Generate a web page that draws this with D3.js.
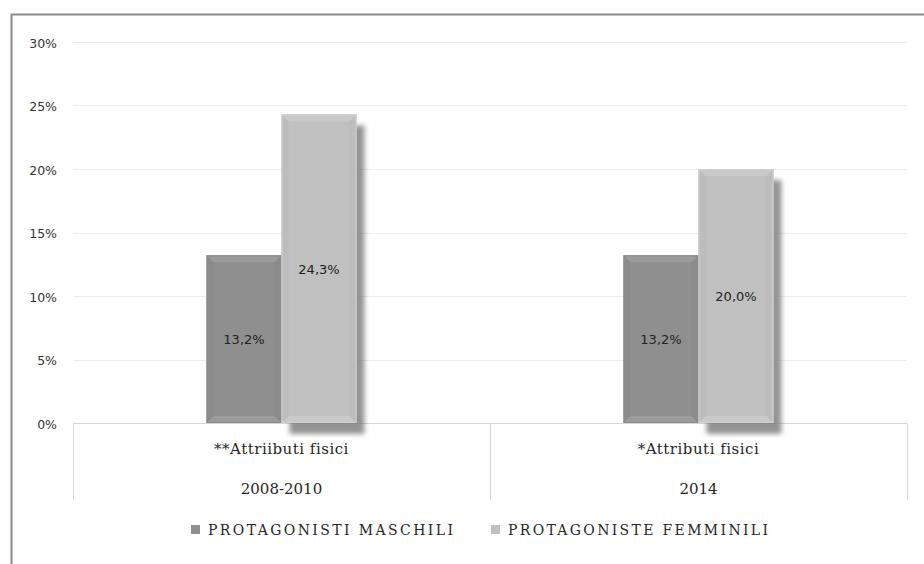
<!DOCTYPE html>
<html>
<head>
<meta charset="utf-8">
<script src="https://cdn.jsdelivr.net/npm/d3@7/dist/d3.min.js"></script>
<style>
  html, body { margin: 0; padding: 0; background: #fff; }
  svg { display: block; }
</style>
</head>
<body>
<svg id="chart" width="924" height="564"></svg>
<script>
// Percent of protagonists described by physical attributes
const groups = ["**Attriibuti fisici", "*Attributi fisici"];
const periods = ["2008-2010", "2014"];
const seriesNames = ["PROTAGONISTI MASCHILI", "PROTAGONISTE FEMMINILI"];
const maschili = [13.2, 13.2];
const femminili = [24.3, 20.0];
const yTicks = [0, 5, 10, 15, 20, 25, 30];

const colors = ["#8f8f8f", "#c0c0c0"];
const edgeLight = ["#9b9b9b", "#c9c9c9"];
const edgeDark = ["#888888", "#b8b8b8"];
const SERIF = "DejaVu Serif";

const svg = d3.select("#chart");
const margin = { left: 73, right: 17, top: 42, bottom: 141 };
const W = 924, H = 564;

const defs = svg.append("defs");
const shadow = defs.append("filter").attr("id", "shadow")
  .attr("x", "-20%").attr("y", "-20%").attr("width", "160%").attr("height", "140%");
shadow.append("feDropShadow").attr("dx", 8).attr("dy", 11)
  .attr("stdDeviation", 2.6).attr("flood-color", "#707070").attr("flood-opacity", 0.75);

// Outer frame
svg.append("path")
  .attr("d", `M11.5,${H} V14.5 H${W}`)
  .attr("fill", "none").attr("stroke", "#8a8a8a").attr("stroke-width", 2);

const y = d3.scaleLinear().domain([0, 30]).range([H - margin.bottom, margin.top]);
const x0 = d3.scaleBand().domain(d3.range(groups.length))
  .range([margin.left, W - margin.right]).paddingInner(0).paddingOuter(0);
const x1 = d3.scaleBand().domain([0, 1]).range([0, x0.bandwidth()])
  .paddingInner(0).paddingOuter(1.78);

// Gridlines
svg.append("g")
  .selectAll("line").data(yTicks.filter(t => t > 0)).join("line")
  .attr("x1", margin.left).attr("x2", W - margin.right)
  .attr("y1", d => Math.round(y(d)) + 0.5).attr("y2", d => Math.round(y(d)) + 0.5)
  .attr("stroke", "#ececec").attr("stroke-width", 1);

// Y axis labels
const yAxis = d3.axisLeft(y).tickValues(yTicks).tickFormat(d => d + "%").tickSize(0).tickPadding(16);
const gy = svg.append("g").attr("transform", `translate(${margin.left},0)`).call(yAxis);
gy.attr("font-family", "DejaVu Sans");
gy.select(".domain").remove();
gy.selectAll("text").attr("font-size", 12.5).attr("fill", "#333").attr("dy", "0.4em");

// Category axis: baseline and group dividers
const base = Math.round(y(0)) + 0.5;
const axisBottom = 500;
svg.append("line").attr("x1", margin.left).attr("x2", W - margin.right)
  .attr("y1", base).attr("y2", base).attr("stroke", "#d6d6d6");
const dividers = [margin.left, ...d3.range(groups.length).map(i => x0(i) + x0.bandwidth())];
svg.append("g").selectAll("line").data(dividers).join("line")
  .attr("x1", d => Math.round(d) + 0.5).attr("x2", d => Math.round(d) + 0.5)
  .attr("y1", base).attr("y2", axisBottom).attr("stroke", "#d6d6d6");

const labels = svg.append("g").attr("font-family", SERIF).attr("fill", "#262626");
groups.forEach((g, i) => {
  const cx = x0(i) + x0.bandwidth() / 2;
  labels.append("text").attr("x", cx).attr("y", 454).attr("text-anchor", "middle")
    .attr("font-size", 15).attr("letter-spacing", 0.5).text(g);
  labels.append("text").attr("x", cx).attr("y", 494).attr("text-anchor", "middle")
    .attr("font-size", 15).text(periods[i]);
});

// Bars with bevelled edges
const data = [];
groups.forEach((g, i) => {
  data.push({ g: i, s: 0, v: maschili[i] });
  data.push({ g: i, s: 1, v: femminili[i] });
});

const bars = svg.append("g");
data.forEach(d => {
  const bx = x0(d.g) + x1(d.s);
  const bw = x1.bandwidth();
  const by = y(d.v);
  const bh = y(0) - by;
  const grp = bars.append("g");
  grp.append("rect").attr("x", bx).attr("y", by).attr("width", bw).attr("height", bh)
    .attr("fill", colors[d.s]).attr("filter", d.s === 1 ? "url(#shadow)" : null);
  const e = 7;
  grp.append("polygon")
    .attr("points", [[bx, by], [bx + bw, by], [bx + bw - e, by + e], [bx + e, by + e]].join(" "))
    .attr("fill", edgeLight[d.s]);
  grp.append("polygon")
    .attr("points", [[bx, by + bh], [bx + bw, by + bh], [bx + bw - e, by + bh - e], [bx + e, by + bh - e]].join(" "))
    .attr("fill", edgeLight[d.s]);
  grp.append("polygon")
    .attr("points", [[bx, by], [bx + e, by + e], [bx + e, by + bh - e], [bx, by + bh]].join(" "))
    .attr("fill", edgeDark[d.s]).attr("opacity", 0.4);
  grp.append("polygon")
    .attr("points", [[bx + bw, by], [bx + bw - e, by + e], [bx + bw - e, by + bh - e], [bx + bw, by + bh]].join(" "))
    .attr("fill", edgeDark[d.s]).attr("opacity", 0.4);
  grp.append("rect").attr("x", bx + 0.5).attr("y", by + 0.5).attr("width", bw - 1).attr("height", bh - 1)
    .attr("fill", "none").attr("stroke", d.s === 0 ? "#8a8a8a" : "#d0d0d0").attr("stroke-width", 1);
  grp.append("text").attr("x", bx + bw / 2).attr("y", by + bh / 2 + 5)
    .attr("text-anchor", "middle").attr("font-size", 13).attr("fill", "#222")
    .attr("font-family", "DejaVu Sans")
    .text(d3.format(".1f")(d.v).replace(".", ",") + "%");
});

// Legend
const legend = svg.append("g").attr("font-family", SERIF).attr("fill", "#262626");
const legendItems = [
  { name: seriesNames[0], x: 191, len: 245 },
  { name: seriesNames[1], x: 491, len: 260 }
];
legendItems.forEach((it, i) => {
  legend.append("rect").attr("x", it.x).attr("y", 525).attr("width", 9).attr("height", 9)
    .attr("fill", colors[i]);
  legend.append("text").attr("x", it.x + 17).attr("y", 535).attr("font-size", 14)
    .attr("textLength", it.len).attr("lengthAdjust", "spacing").text(it.name);
});
</script>
</body>
</html>
